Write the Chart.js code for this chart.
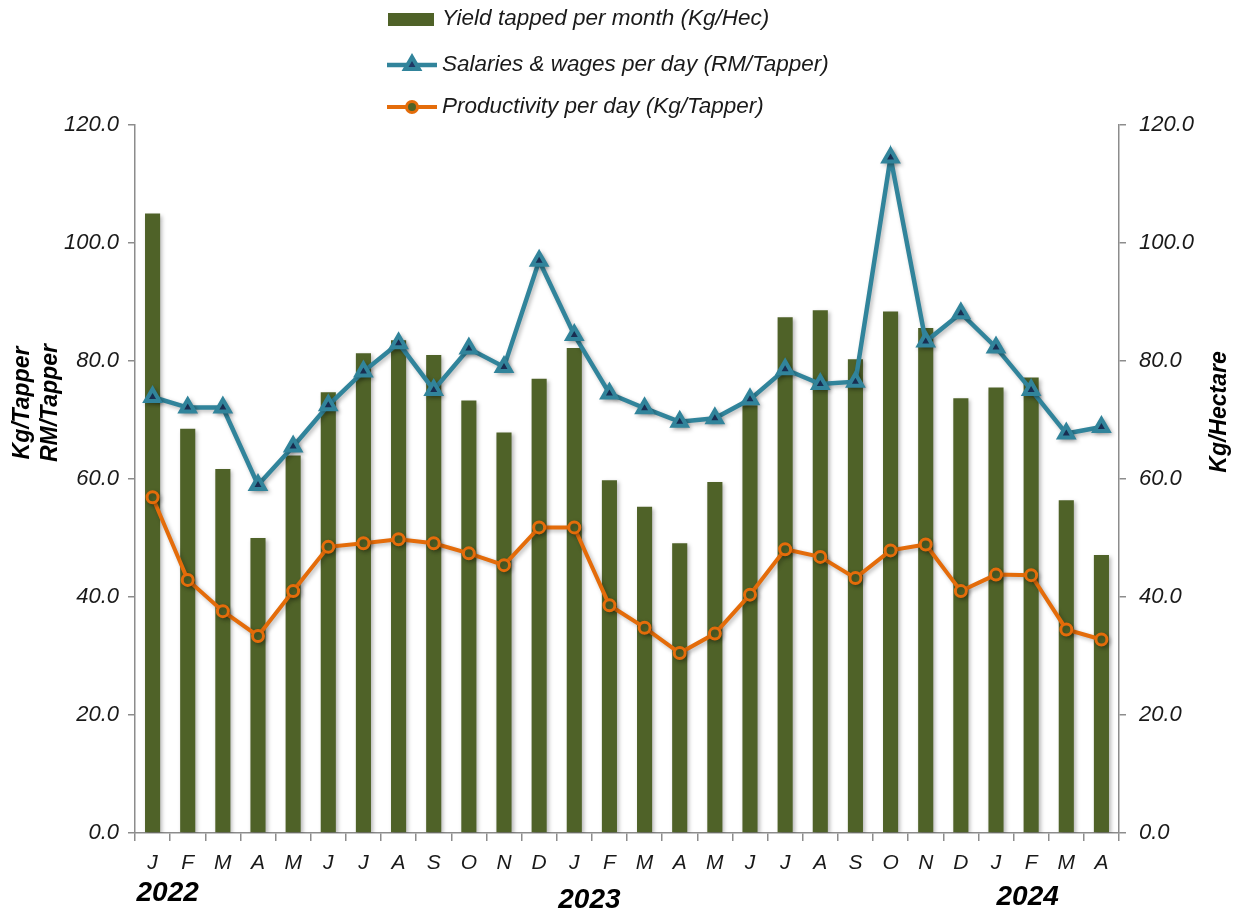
<!DOCTYPE html>
<html>
<head>
<meta charset="utf-8">
<script src="https://cdn.jsdelivr.net/npm/chart.js@4/dist/chart.umd.min.js"></script>
<style>
  html, body { margin: 0; padding: 0; background: #fff; }
  #wrap { width: 1243px; height: 912px; position: relative; }
</style>
</head>
<body>
<div id="wrap"><canvas id="chart"></canvas></div>
<script>
// monthly data, Jan 2022 - Apr 2024
const months = ['J','F','M','A','M','J','J','A','S','O','N','D',
                'J','F','M','A','M','J','J','A','S','O','N','D',
                'J','F','M','A'];
const yieldKgHec = [105.0, 68.5, 61.7, 50.0, 64.0, 74.7, 81.3, 83.5, 81.0, 73.3, 67.9, 77.0,
                    82.2, 59.8, 55.3, 49.1, 59.5, 72.5, 87.4, 88.6, 80.3, 88.4, 85.6, 73.7,
                    75.5, 77.2, 56.4, 47.1];
const salaries = [73.9, 72.1, 72.1, 59.0, 65.5, 72.5, 78.2, 83.0, 75.1, 82.1, 79.0, 97.0,
                  84.4, 74.5, 72.0, 69.7, 70.3, 73.5, 78.6, 76.1, 76.5, 114.5, 83.3, 88.1,
                  82.3, 75.1, 67.7, 68.8];
const productivity = [56.9, 42.9, 37.6, 33.4, 41.0, 48.5, 49.1, 49.8, 49.1, 47.4, 45.4, 51.8,
                      51.8, 38.6, 34.8, 30.5, 33.8, 40.4, 48.1, 46.8, 43.2, 47.9, 48.9, 41.0,
                      43.8, 43.7, 34.5, 32.8];
const years = ['2022', '2023', '2024'];
const yearStartIndex = [0, 12, 24];
const seriesNames = ['Yield tapped per month (Kg/Hec)',
                     'Salaries & wages per day (RM/Tapper)',
                     'Productivity per day (Kg/Tapper)'];

const FONT = "'Liberation Sans', Arial, sans-serif";
const OLIVE = '#4f6228';
const TEAL = '#31849b';
const ORANGE = '#e46c0a';
const AXIS = '#8c8c8c';

// soft shadow like the office chart
const shadowPlugin = {
  id: 'shadow',
  beforeDatasetDraw(chart) {
    const ctx = chart.ctx;
    ctx.save();
    ctx.shadowColor = 'rgba(0,0,0,0.28)';
    ctx.shadowBlur = 4;
    ctx.shadowOffsetX = 2;
    ctx.shadowOffsetY = 2;
  },
  afterDatasetDraw(chart) {
    chart.ctx.restore();
  }
};

// legend stacked in three rows, axis titles and year labels
const extrasPlugin = {
  id: 'extras',
  afterDraw(chart) {
    const ctx = chart.ctx;
    const x = chart.scales.x;
    ctx.save();

    // legend
    const lx = 387, rowsY = [19, 65, 107];
    ctx.font = 'italic 22.5px ' + FONT;
    ctx.textBaseline = 'middle';
    ctx.textAlign = 'left';
    chart.data.datasets.forEach((ds, i) => {
      const y = rowsY[i];
      if (ds.type === 'bar') {
        ctx.fillStyle = ds.backgroundColor;
        ctx.fillRect(lx + 1, y - 6, 46, 13);
      } else {
        ctx.strokeStyle = ds.borderColor;
        ctx.lineWidth = ds.borderWidth;
        ctx.beginPath();
        ctx.moveTo(lx, y);
        ctx.lineTo(lx + 50, y);
        ctx.stroke();
        ctx.fillStyle = ds.pointBackgroundColor;
        ctx.strokeStyle = ds.pointBorderColor;
        ctx.lineWidth = ds.pointBorderWidth;
        Chart.helpers.drawPoint(ctx, {
          pointStyle: ds.pointStyle,
          radius: ds.pointRadius,
          borderWidth: ds.pointBorderWidth,
          rotation: 0
        }, lx + 25, y);
      }
      ctx.fillStyle = '#1a1a1a';
      ctx.fillText(ds.label, lx + 55, y);
    });

    // axis titles
    ctx.font = 'bold italic 23px ' + FONT;
    ctx.fillStyle = '#000';
    ctx.textAlign = 'center';
    ctx.save();
    ctx.translate(23, 403);
    ctx.rotate(-Math.PI / 2);
    ctx.fillText('Kg/Tapper', 0, 0);
    ctx.fillText('RM/Tapper', 0, 28);
    ctx.restore();
    ctx.save();
    ctx.translate(1220, 412);
    ctx.rotate(-Math.PI / 2);
    ctx.fillText('Kg/Hectare', 0, 0);
    ctx.restore();

    // year labels under the month ticks
    const yearShift = [0.43, 0.43, 0.9];
    const yearY = [893, 900, 897];
    ctx.font = 'bold italic 28px ' + FONT;
    years.forEach((yr, i) => {
      const px = x.getPixelForValue(yearStartIndex[i] + yearShift[i]);
      ctx.fillText(yr, px, yearY[i]);
    });
    ctx.restore();
  }
};

const tickFont = { family: FONT, size: 22, style: 'italic' };

new Chart(document.getElementById('chart'), {
  data: {
    labels: months,
    datasets: [
      {
        type: 'bar',
        label: seriesNames[0],
        data: yieldKgHec,
        yAxisID: 'y2',
        backgroundColor: OLIVE,
        barPercentage: 0.43,
        categoryPercentage: 1.0,
        order: 3
      },
      {
        type: 'line',
        label: seriesNames[1],
        data: salaries,
        yAxisID: 'y',
        borderColor: TEAL,
        borderWidth: 4.5,
        pointStyle: 'triangle',
        pointRadius: 8,
        pointBorderWidth: 4,
        pointBorderColor: TEAL,
        pointBackgroundColor: '#1f3864',
        tension: 0,
        order: 2
      },
      {
        type: 'line',
        label: seriesNames[2],
        data: productivity,
        yAxisID: 'y',
        borderColor: ORANGE,
        borderWidth: 4,
        pointStyle: 'circle',
        pointRadius: 5.5,
        pointBorderWidth: 3,
        pointBorderColor: ORANGE,
        pointBackgroundColor: OLIVE,
        tension: 0,
        order: 1
      }
    ]
  },
  options: {
    responsive: true,
    maintainAspectRatio: false,
    animation: false,
    layout: { padding: { top: 125, left: 0, right: 0, bottom: 0 } },
    plugins: {
      legend: { display: false },
      tooltip: { enabled: false }
    },
    scales: {
      x: {
        offset: true,
        grid: { offset: true, drawOnChartArea: false, drawTicks: true, tickLength: 8, color: AXIS, lineWidth: 1.5 },
        border: { display: true, color: AXIS, width: 1.5 },
        ticks: { font: { family: FONT, size: 21, style: 'italic' }, color: '#1a1a1a', padding: 10,
                 maxRotation: 0, autoSkip: false },
        afterFit(scale) { scale.height = 79; }
      },
      y: {
        position: 'left',
        min: 0, max: 120,
        grid: { drawOnChartArea: false, drawTicks: true, tickLength: 7, color: AXIS, lineWidth: 1.5 },
        border: { display: true, color: AXIS, width: 1.5 },
        ticks: { stepSize: 20, font: tickFont, color: '#1a1a1a', padding: 9,
                 callback: v => v.toFixed(1) },
        afterFit(scale) { scale.width = 135; }
      },
      y2: {
        position: 'right',
        min: 0, max: 120,
        grid: { drawOnChartArea: false, drawTicks: true, tickLength: 7, color: AXIS, lineWidth: 1.5 },
        border: { display: true, color: AXIS, width: 1.5 },
        ticks: { stepSize: 20, font: tickFont, color: '#1a1a1a', padding: 13,
                 callback: v => v.toFixed(1) },
        afterFit(scale) { scale.width = 124; }
      }
    }
  },
  plugins: [shadowPlugin, extrasPlugin]
});
</script>
</body>
</html>
